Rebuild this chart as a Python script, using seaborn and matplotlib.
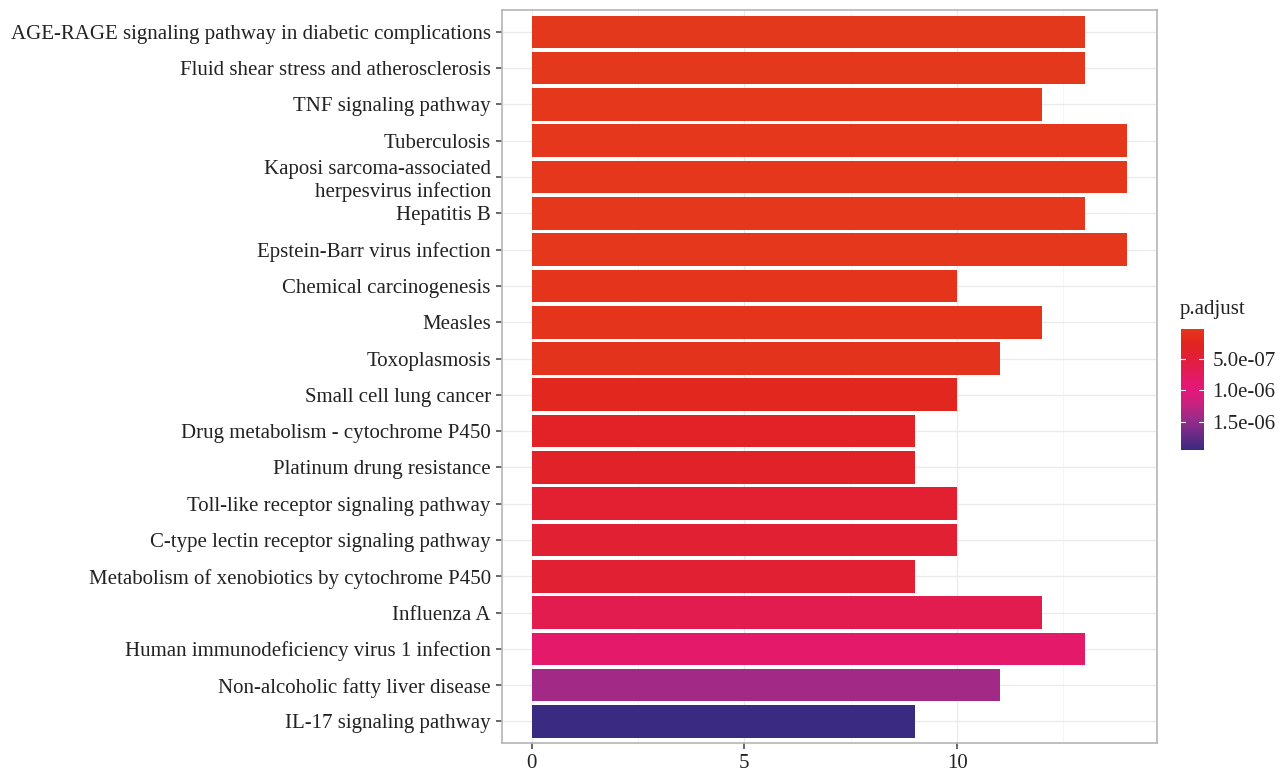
import matplotlib
matplotlib.use("Agg")
import matplotlib.pyplot as plt
import numpy as np
import pandas as pd
import seaborn as sns
from matplotlib.colors import LinearSegmentedColormap, Normalize
from matplotlib.cm import ScalarMappable
from matplotlib.ticker import MultipleLocator

pathways = [
    "AGE-RAGE signaling pathway in diabetic complications",
    "Fluid shear stress and atherosclerosis",
    "TNF signaling pathway",
    "Tuberculosis",
    "Kaposi sarcoma-associated\nherpesvirus infection",
    "Hepatitis B",
    "Epstein-Barr virus infection",
    "Chemical carcinogenesis",
    "Measles",
    "Toxoplasmosis",
    "Small cell lung cancer",
    "Drug metabolism - cytochrome P450",
    "Platinum drung resistance",
    "Toll-like receptor signaling pathway",
    "C-type lectin receptor signaling pathway",
    "Metabolism of xenobiotics by cytochrome P450",
    "Influenza A",
    "Human immunodeficiency virus 1 infection",
    "Non-alcoholic fatty liver disease",
    "IL-17 signaling pathway",
]
counts = [13, 13, 12, 14, 14, 13, 14, 10, 12, 11, 10, 9, 9, 10, 10, 9, 12, 13, 11, 9]
p_adjust = [3e-8, 3e-8, 4e-8, 4e-8, 4e-8, 5e-8, 5e-8, 6e-8, 7e-8, 9e-8,
            2.2e-7, 3.4e-7, 3.6e-7, 4.4e-7, 4.5e-7, 4.6e-7, 6.5e-7, 8.5e-7,
            1.4e-6, 1.94e-6]
cbar_ticks = [5e-7, 1e-6, 1.5e-6]
cbar_labels = ["5.0e-07", "1.0e-06", "1.5e-06"]

df = pd.DataFrame({"Description": pathways, "Count": counts, "p.adjust": p_adjust})

cmap = LinearSegmentedColormap.from_list(
    "padj",
    [(0.0, "#E4381C"), (0.12, "#E2241E"), (0.25, "#E21F3A"), (0.38, "#E31A5E"),
     (0.5, "#E5177A"), (0.62, "#C8217F"), (0.75, "#972C8A"), (1.0, "#3A2A82")],
)
norm = Normalize(vmin=min(p_adjust), vmax=max(p_adjust))
colors = [cmap(norm(p)) for p in p_adjust]

sns.set_theme(style="white")
plt.rcParams["font.family"] = ["Liberation Serif", "DejaVu Serif"]

fig = plt.figure(figsize=(12.87, 7.75), dpi=100)
ax = fig.add_axes([0.390, 0.041, 0.509, 0.946])

sns.barplot(data=df, x="Count", y="Description", hue="Description",
            palette=colors, legend=False, orient="h", width=0.9,
            saturation=1, linewidth=0, ax=ax, zorder=3)

ax.set_xlim(-0.7, 14.7)
ax.set_ylim(len(pathways) - 0.4, -0.6)
ax.xaxis.set_major_locator(MultipleLocator(5))
ax.xaxis.set_minor_locator(MultipleLocator(2.5))
ax.grid(True, which="major", color="#EBEBEB", linewidth=1.0, zorder=0)
ax.grid(True, which="minor", axis="x", color="#F4F4F4", linewidth=0.6, zorder=0)
ax.set_axisbelow(True)
ax.set_xlabel("")
ax.set_ylabel("")
for s in ax.spines.values():
    s.set_color("#B5B5B5")
    s.set_linewidth(1.2)
ax.tick_params(axis="both", which="major", length=4, color="#555555",
               labelsize=15, labelcolor="#222222", pad=4, bottom=True, left=True)
ax.tick_params(axis="x", which="minor", length=0)

# colour bar legend
cax = fig.add_axes([0.9175, 0.419, 0.018, 0.157])
sm = ScalarMappable(norm=norm, cmap=cmap)
cb = fig.colorbar(sm, cax=cax, ticks=cbar_ticks)
cb.ax.set_yticklabels(cbar_labels)
cb.ax.invert_yaxis()
cb.outline.set_visible(False)
cb.ax.tick_params(length=0, labelsize=15, labelcolor="#222222", pad=6)
for t in cbar_ticks:
    cb.ax.plot([0, 0.2], [t, t], color="white", lw=0.8, transform=cb.ax.get_yaxis_transform())
    cb.ax.plot([0.8, 1.0], [t, t], color="white", lw=0.8, transform=cb.ax.get_yaxis_transform())
fig.text(0.9165, 0.588, "p.adjust", fontsize=15, color="#222222", ha="left", va="bottom")

fig.savefig("out.png", dpi=100)
